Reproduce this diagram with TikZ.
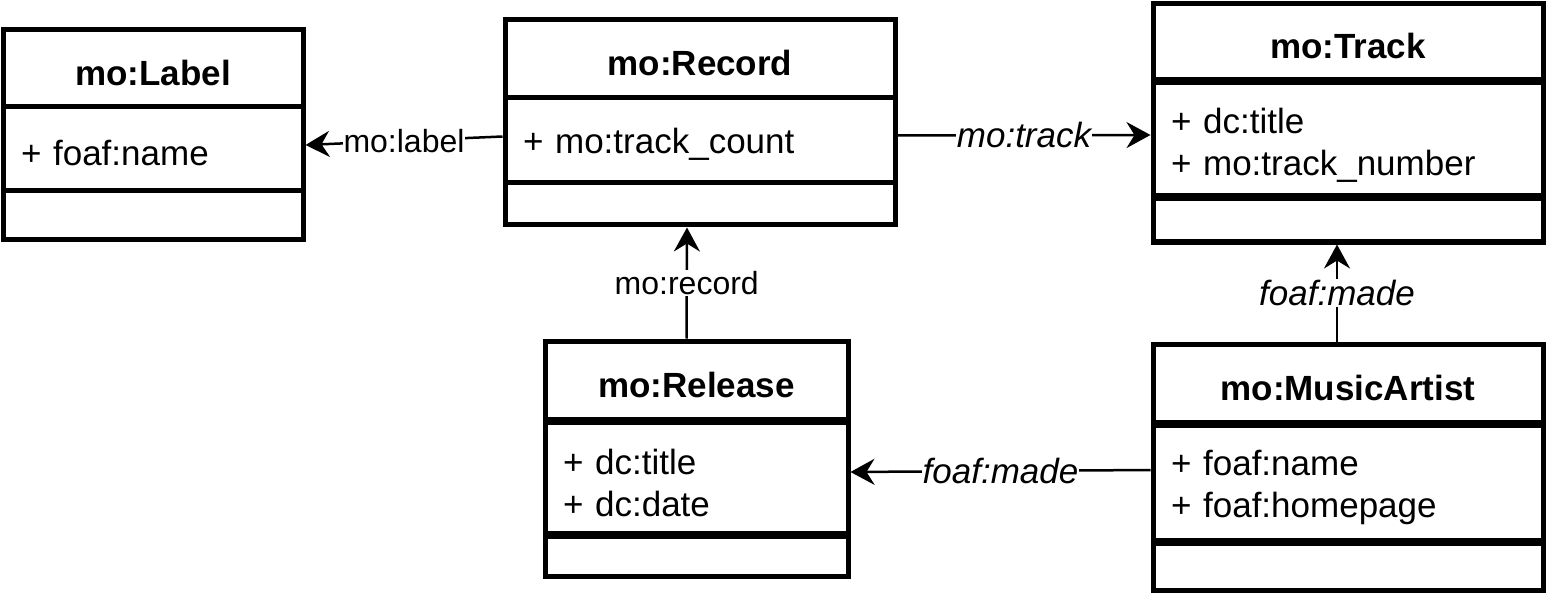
\documentclass[tikz,border=0pt]{standalone}
\usepackage{fontspec}
\setmainfont{Liberation Sans}
\usetikzlibrary{arrows.meta}

\tikzset{
  box/.style={draw=black, line width=5pt, inner sep=0pt, font=\fontsize{35}{42}\selectfont},
  head/.style={box, font=\bfseries\fontsize{35}{42}\selectfont, text height=34pt, text depth=0pt},
  attr/.style={box, align=left, inner xsep=18pt, execute at begin node={\rule{0pt}{33pt}}},
  conn/.style={line width=2.5pt, -{Stealth[length=24pt,width=26pt,inset=8pt]}},
  lbl/.style={fill=white, inner sep=1pt, font=\fontsize{32}{38}\selectfont},
  ilbl/.style={lbl, font=\itshape\fontsize{35}{42}\selectfont}
}

\begin{document}
\begin{tikzpicture}[x=1pt,y=-1pt]
\useasboundingbox (0,0) rectangle (1550,604);

\node[head,minimum width=300pt,minimum height=77pt] (labH) at (153,68.5) {mo:Label};
\node[attr,text width=264pt,minimum height=84pt] (labA) at (153,149) {+ foaf:name};
\node[box,minimum width=300pt,minimum height=49pt] (labO) at (153,215.5) {};

\node[head,minimum width=390pt,minimum height=78pt] (recH) at (700,59) {mo:Record};
\node[attr,text width=354pt,minimum height=85pt] (recA) at (700,140.5) {+ mo:track\_count};
\node[box,minimum width=390pt,minimum height=42pt] (recO) at (700,204) {};

\node[head,minimum width=390pt,minimum height=76pt] (trkH) at (1348,42) {mo:Track};
\node[attr,text width=354pt,minimum height=116pt] (trkA) at (1348,141) {+ dc:title\\+ mo:track\_number};
\node[box,minimum width=390pt,minimum height=46pt] (trkO) at (1348,219) {};

\node[head,minimum width=303pt,minimum height=78pt] (relH) at (696.5,380) {mo:Release};
\node[attr,text width=267pt,minimum height=114pt] (relA) at (696.5,479) {+ dc:title\\+ dc:date};
\node[box,minimum width=303pt,minimum height=43pt] (relO) at (696.5,554.5) {};

\node[head,minimum width=390pt,minimum height=78pt] (artH) at (1348,383) {mo:MusicArtist};
\node[attr,text width=354pt,minimum height=118pt] (artA) at (1348,484) {+ foaf:name\\+ foaf:homepage};
\node[box,minimum width=390pt,minimum height=50pt] (artO) at (1348,565) {};

\draw[conn] ([yshift=4pt]recA.west) -- node[lbl]{mo:label} ([yshift=4pt]labA.east);
\draw[conn] ([yshift=5pt]recA.east) -- node[ilbl]{mo:track} ([yshift=6pt]trkA.west);
\draw[conn] ([xshift=-10pt]relH.north) -- node[lbl]{mo:record} ([xshift=-13pt]recO.south);
\draw[conn] ([xshift=-11pt]artH.north) -- node[ilbl]{foaf:made} ([xshift=-11pt]trkO.south);
\draw[conn] ([yshift=14pt]artA.west) -- node[ilbl]{foaf:made} ([yshift=7pt]relA.east);

\end{tikzpicture}
\end{document}
